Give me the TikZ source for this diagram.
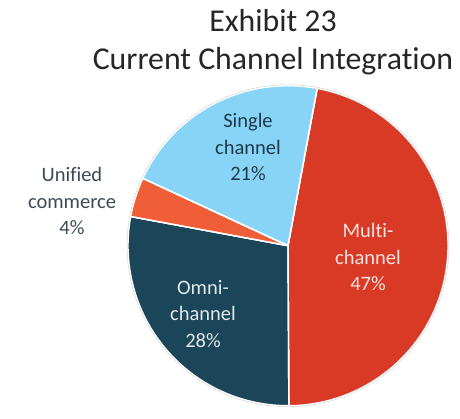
\documentclass[tikz,border=0pt]{standalone}
\usepackage{fontspec}
\setmainfont{Carlito}[Ligatures=NoCommon]
\definecolor{cmulti}{HTML}{D93A26}
\definecolor{comni}{HTML}{1B4558}
\definecolor{cunif}{HTML}{EF5E37}
\definecolor{csingle}{HTML}{87D4F7}
\definecolor{tdark}{HTML}{1E3A4A}
\definecolor{tgray}{HTML}{3B4A55}
\definecolor{tmulti}{HTML}{F7E3DF}
\definecolor{tomni}{HTML}{E2E8EC}
\begin{document}
\begin{tikzpicture}[x=1pt,y=1pt,
  slice/.style={draw=white,line width=1.4pt,line join=round},
  lbl/.style={align=center,font=\fontsize{20.5}{26.5}\selectfont},
  ttl/.style={anchor=base,font=\fontsize{31.8}{36}\selectfont,text=black!85}]
\useasboundingbox (0,0) rectangle (460,418);
\coordinate (c) at (288,172.3);
\def\R{160}
\fill[black!18] (c) circle[radius=\R+1.2];
\fill[slice,fill=cmulti] (c) -- ++(79.5:\R) arc[start angle=79.5,end angle=-89.7,radius=\R] -- cycle;
\fill[slice,fill=comni] (c) -- ++(-89.7:\R) arc[start angle=-89.7,end angle=-190.5,radius=\R] -- cycle;
\fill[slice,fill=cunif] (c) -- ++(-190.5:\R) arc[start angle=-190.5,end angle=-204.9,radius=\R] -- cycle;
\fill[slice,fill=csingle] (c) -- ++(-204.9:\R) arc[start angle=-204.9,end angle=-280.5,radius=\R] -- cycle;
\draw[slice] (c) -- ++(79.5:\R);
\draw[slice] (c) -- ++(-89.7:\R);
\draw[slice] (c) -- ++(-190.5:\R);
\draw[slice] (c) -- ++(-204.9:\R);
\node[ttl] (t1) at (273,386) {Exhibit 23};
\node[ttl] (t2) at (273,348) {Current Channel Integration};
\node[lbl,text=tdark] (ls) at (248,271) {Single\\channel\\21\%};
\node[lbl,text=tmulti] (lm) at (368,161) {Multi-\\channel\\47\%};
\node[lbl,text=tomni] (lo) at (203,104) {Omni-\\channel\\28\%};
\node[lbl,text=tgray] (lu) at (72,217) {Unified\\commerce\\4\%};
\end{tikzpicture}
\end{document}
